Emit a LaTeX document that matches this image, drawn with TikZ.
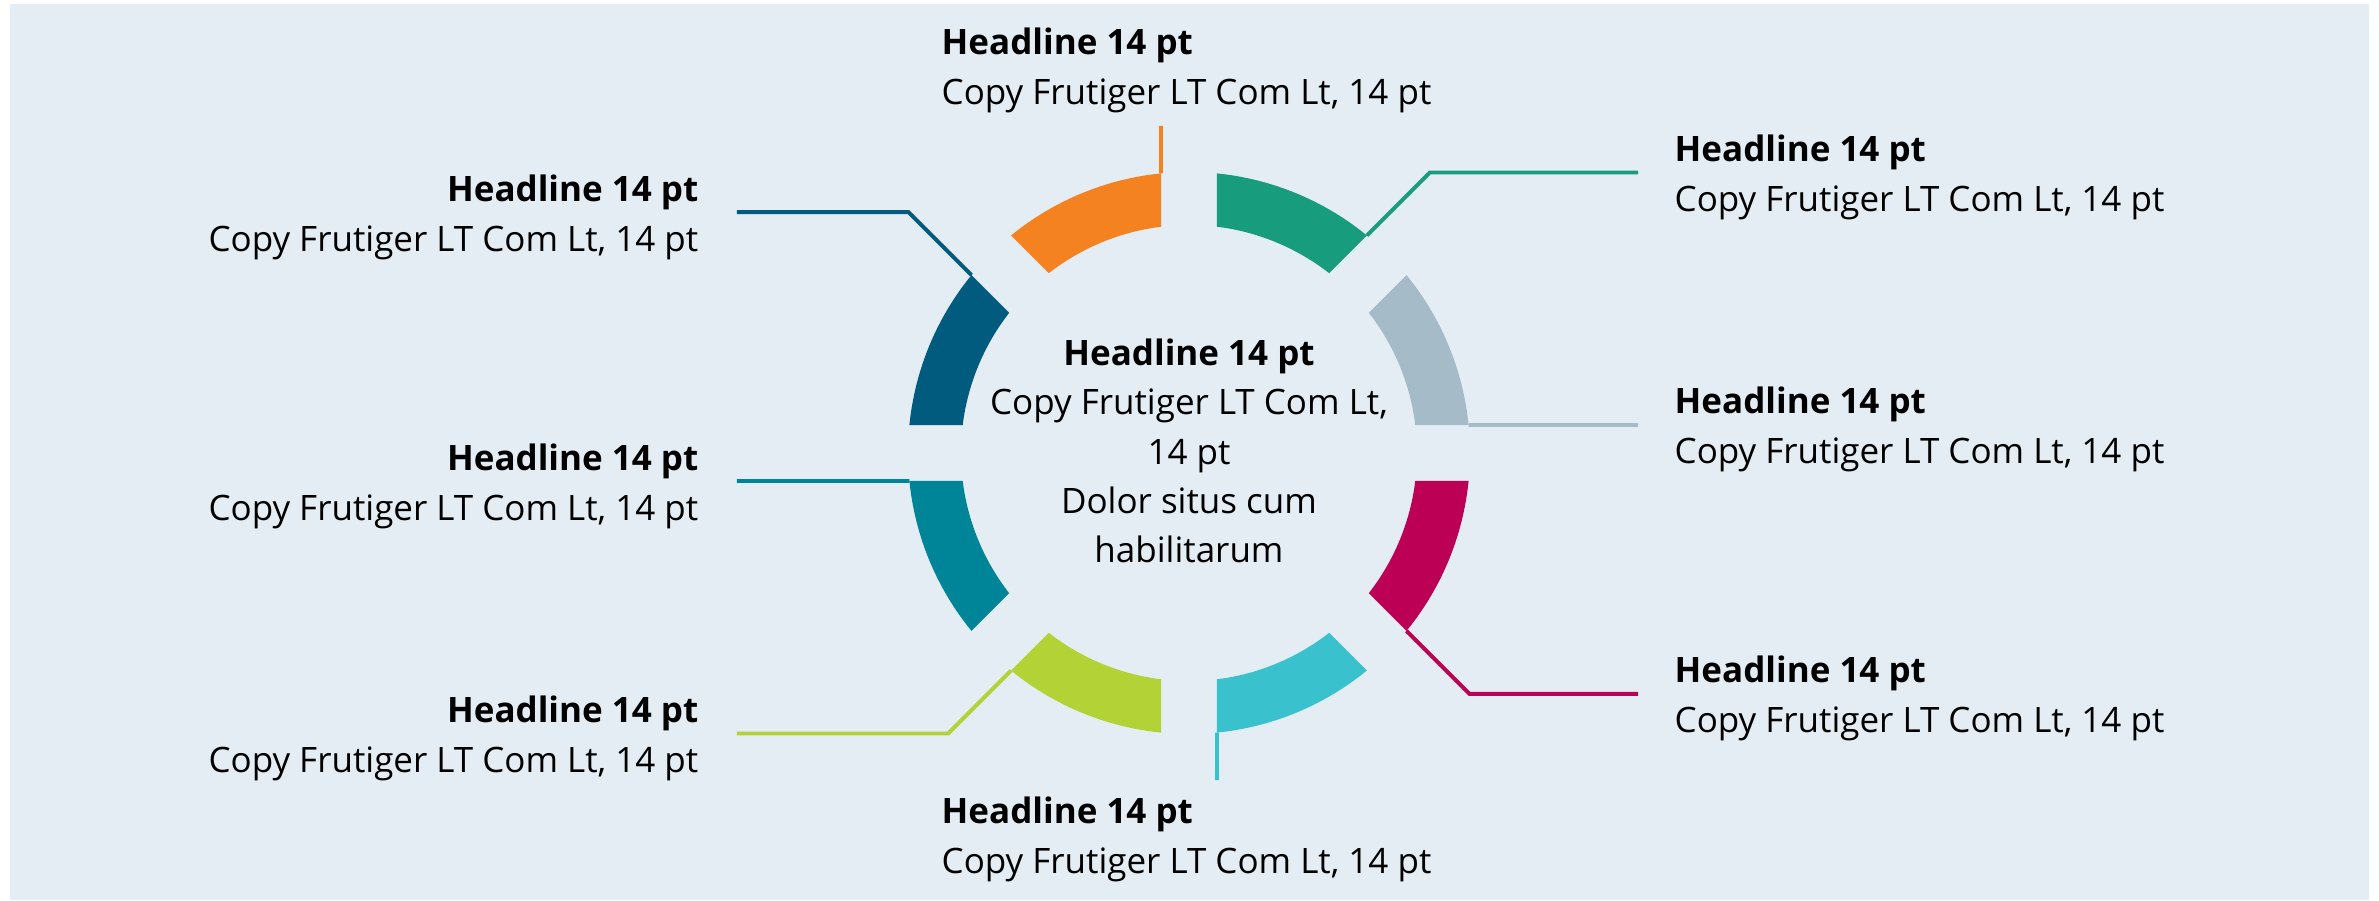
\documentclass[tikz,border=0pt]{standalone}
\usepackage{fontspec}
\setmainfont{Open Sans}
\usetikzlibrary{calc}

\definecolor{bgblue}{HTML}{E4EDF3}
\definecolor{fgray}{HTML}{A6BBC8}
\definecolor{fgreen}{HTML}{179C7D}
\definecolor{forange}{HTML}{F58220}
\definecolor{fdarkblue}{HTML}{005B7F}
\definecolor{fteal}{HTML}{008598}
\definecolor{flime}{HTML}{B2D235}
\definecolor{fcyan}{HTML}{39C1CD}
\definecolor{fmagenta}{HTML}{BB0056}

% one ring segment: colour, start angle (45 deg wide, straight parallel gaps)
\newcommand{\ringpart}[2]{%
  \fill[#1] (#2+\gapout:\rout) arc[start angle=#2+\gapout, end angle=#2+45-\gapout, radius=\rout]
    -- (#2+45-\gapin:\rin) arc[start angle=#2+45-\gapin, end angle=#2+\gapin, radius=\rin] -- cycle;}

\begin{document}
\begin{tikzpicture}[
        x=0.01cm, y=0.01cm,
        txt/.style={inner sep=0pt, font=\fontsize{9.95pt}{14pt}\selectfont},
        headtext/.style={txt, font=\fontsize{9.95pt}{14pt}\selectfont\bfseries},
        copytext/.style={txt},
        lead/.style={line width=1.1pt, line join=miter}
    ]
    \pgfmathsetmacro{\rout}{281}
    \pgfmathsetmacro{\rin}{228}
    \pgfmathsetmacro{\gapout}{asin(28/281)}
    \pgfmathsetmacro{\gapin}{asin(28/228)}

    \useasboundingbox (-1189,453) rectangle (1190,-447);
    \fill[bgblue] (-1179,449) rectangle (1180,-447);

    % ring
    \ringpart{fgray}{0}
    \ringpart{fgreen}{45}
    \ringpart{forange}{90}
    \ringpart{fdarkblue}{135}
    \ringpart{fteal}{180}
    \ringpart{flime}{225}
    \ringpart{fcyan}{270}
    \ringpart{fmagenta}{315}

    % leader start points, bends and ends
    \coordinate (gray) at (\gapout:\rout);
    \coordinate (green) at (45+\gapout:\rout);
    \coordinate (orange) at (90+\gapout:\rout);
    \coordinate (darkblue) at (135+\gapout:\rout);
    \coordinate (teal) at (180+\gapout:\rout);
    \coordinate (lime) at (225+\gapout:\rout);
    \coordinate (cyan) at (270+\gapout:\rout);
    \coordinate (magenta) at (315+\gapout:\rout);

    \coordinate (gray-end) at (449,28);
    \coordinate (green-bend) at ($(green)+(63,63)$);
    \coordinate (green-end) at (449,0 |- green-bend);
    \coordinate (orange-end) at (-28,327);
    \coordinate (darkblue-bend) at ($(darkblue)+(-63,63)$);
    \coordinate (darkblue-end) at (-452,0 |- darkblue-bend);
    \coordinate (teal-end) at (-452,-28);
    \coordinate (lime-bend) at ($(lime)+(-63,-63)$);
    \coordinate (lime-end) at (-452,0 |- lime-bend);
    \coordinate (cyan-end) at (28,-327);
    \coordinate (magenta-bend) at ($(magenta)+(63,-63)$);
    \coordinate (magenta-end) at (449,0 |- magenta-bend);

    \draw[lead, fgray] (gray) -- (gray-end);
    \draw[lead, fgreen] (green) -- (green-bend) -- (green-end);
    \draw[lead, forange] (orange) -- (orange-end);
    \draw[lead, fdarkblue] (darkblue) -- (darkblue-bend) -- (darkblue-end);
    \draw[lead, fteal] (teal) -- (teal-end);
    \draw[lead, flime] (lime) -- (lime-bend) -- (lime-end);
    \draw[lead, fcyan] (cyan) -- (cyan-end);
    \draw[lead, fmagenta] (magenta) -- (magenta-bend) -- (magenta-end);

    % centre
    \node[txt, align=center] (centre) at (0,2) {\textbf{Headline 14 pt}\\Copy Frutiger LT Com Lt,\\14 pt\\Dolor situs cum\\habilitarum};

    % top and bottom
    \node[headtext, anchor=base west] (h-orange) at ($(orange-end)+(-220,71)$) {Headline 14 pt};
    \node[copytext, anchor=base west] (t-orange) at ($(h-orange.base west)+(0,-50)$) {Copy Frutiger LT Com Lt, 14 pt};
    \node[headtext, anchor=base west] (h-cyan) at ($(cyan-end)+(-276,-43)$) {Headline 14 pt};
    \node[copytext, anchor=base west] (t-cyan) at ($(h-cyan.base west)+(0,-50)$) {Copy Frutiger LT Com Lt, 14 pt};

    % right side
    \node[headtext, anchor=base west] (h-green) at ($(green-end)+(36,11)$) {Headline 14 pt};
    \node[copytext, anchor=base west] (t-green) at ($(h-green.base west)+(0,-50)$) {Copy Frutiger LT Com Lt, 14 pt};
    \node[headtext, anchor=base west] (h-gray) at ($(gray-end)+(36,11)$) {Headline 14 pt};
    \node[copytext, anchor=base west] (t-gray) at ($(h-gray.base west)+(0,-50)$) {Copy Frutiger LT Com Lt, 14 pt};
    \node[headtext, anchor=base west] (h-magenta) at ($(magenta-end)+(36,11)$) {Headline 14 pt};
    \node[copytext, anchor=base west] (t-magenta) at ($(h-magenta.base west)+(0,-50)$) {Copy Frutiger LT Com Lt, 14 pt};

    % left side
    \node[headtext, anchor=base east] (h-darkblue) at ($(darkblue-end)+(-38,11)$) {Headline 14 pt};
    \node[copytext, anchor=base east] (t-darkblue) at ($(h-darkblue.base east)+(0,-50)$) {Copy Frutiger LT Com Lt, 14 pt};
    \node[headtext, anchor=base east] (h-teal) at ($(teal-end)+(-38,11)$) {Headline 14 pt};
    \node[copytext, anchor=base east] (t-teal) at ($(h-teal.base east)+(0,-50)$) {Copy Frutiger LT Com Lt, 14 pt};
    \node[headtext, anchor=base east] (h-lime) at ($(lime-end)+(-38,11)$) {Headline 14 pt};
    \node[copytext, anchor=base east] (t-lime) at ($(h-lime.base east)+(0,-50)$) {Copy Frutiger LT Com Lt, 14 pt};
\end{tikzpicture}
\end{document}
